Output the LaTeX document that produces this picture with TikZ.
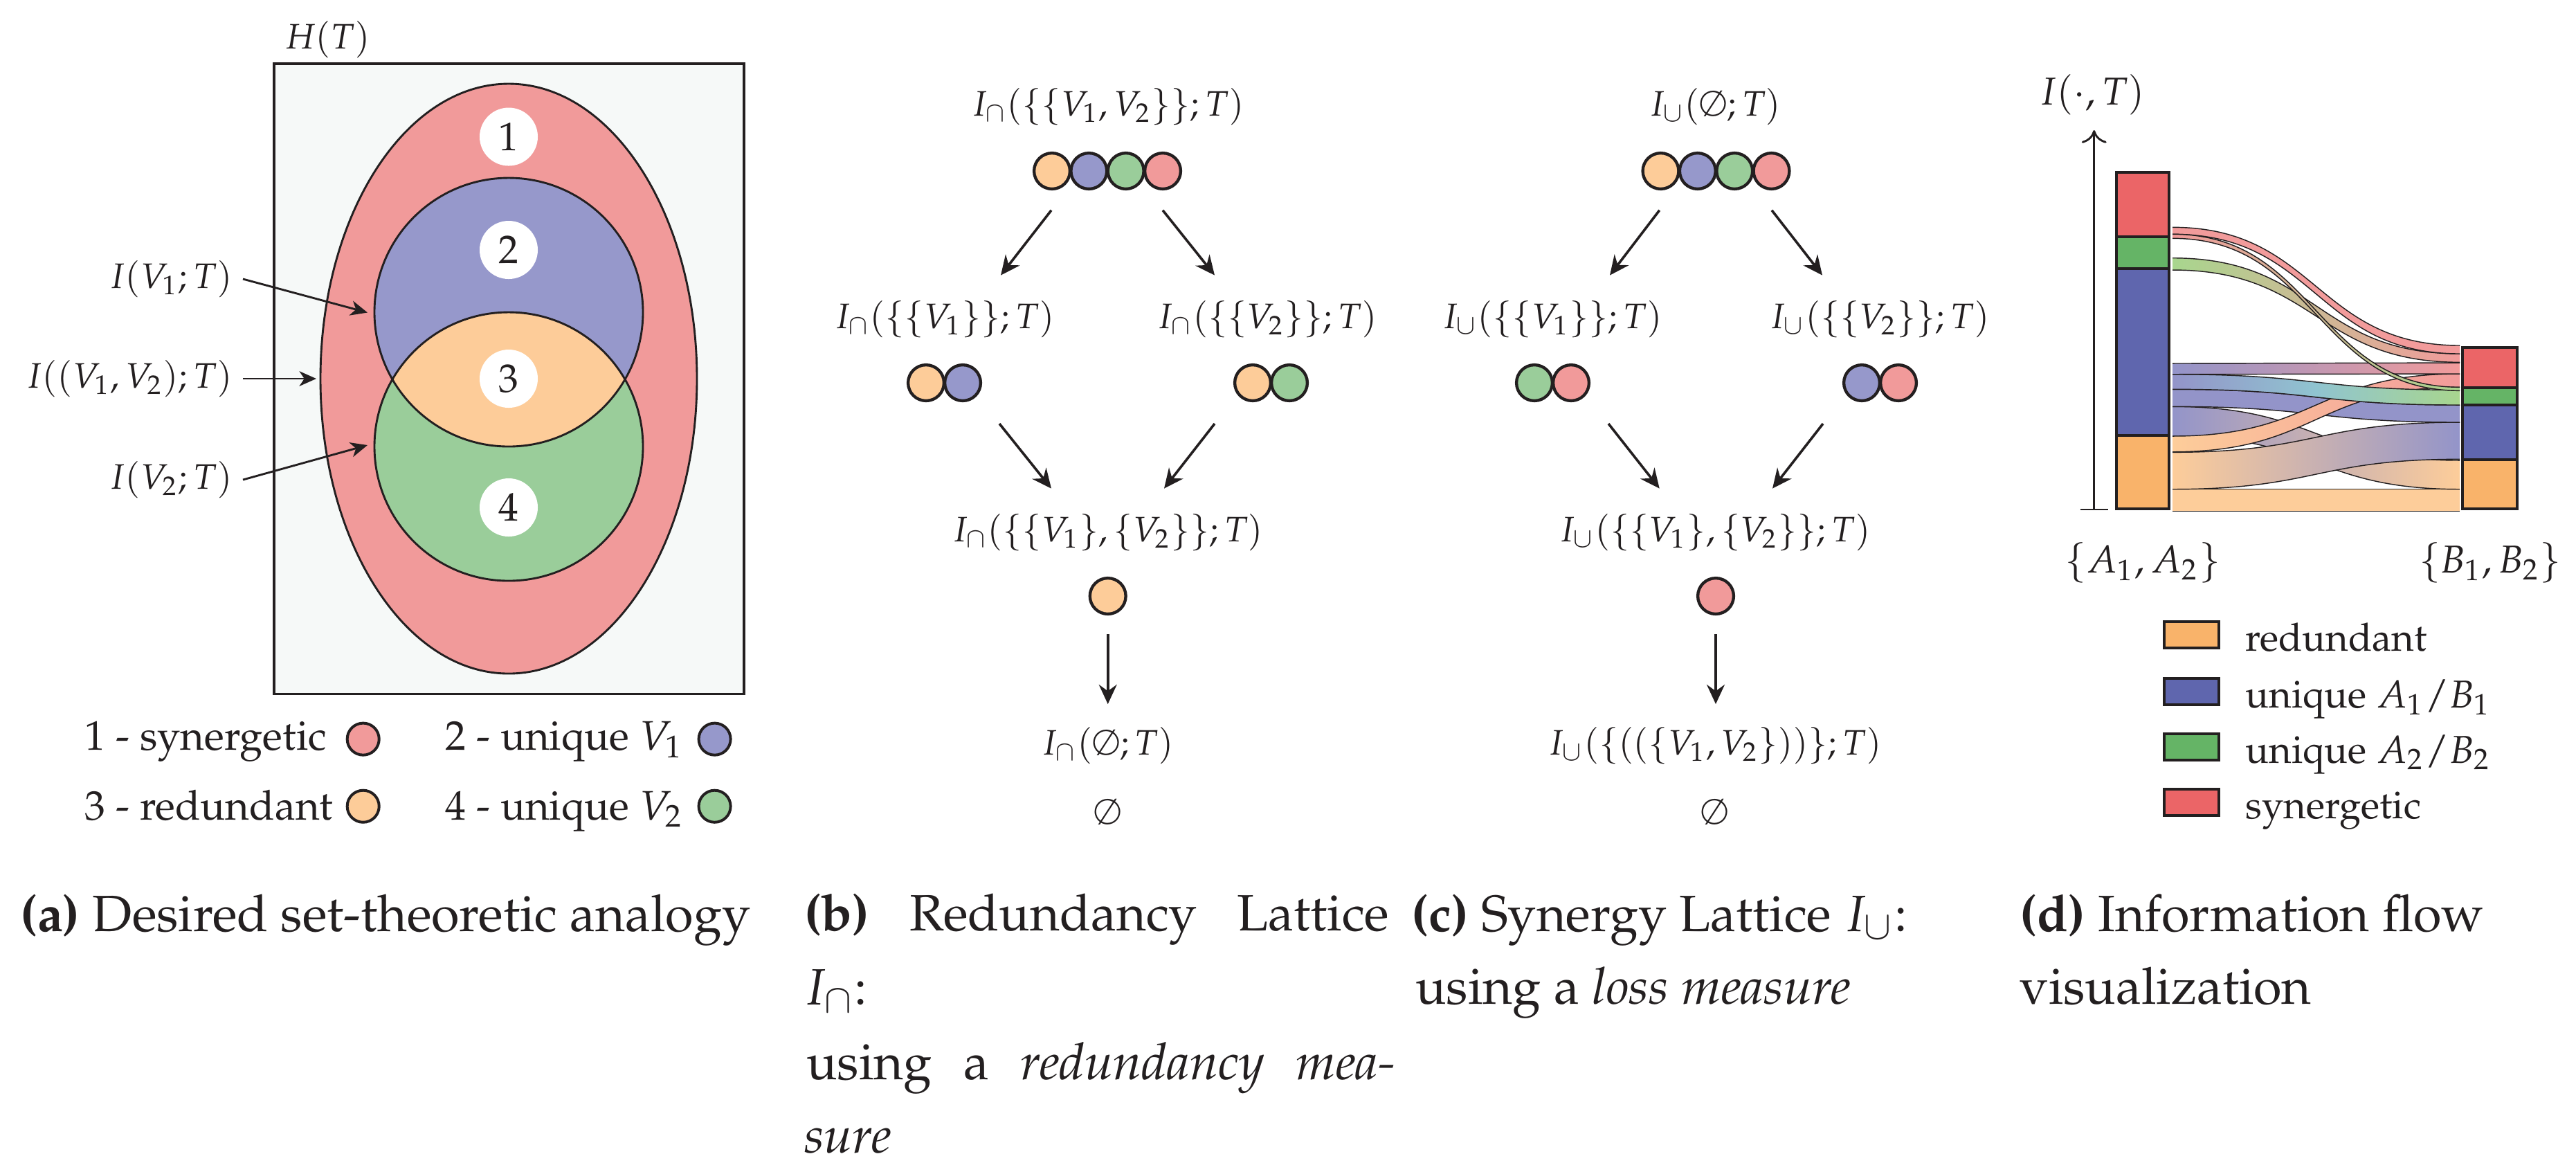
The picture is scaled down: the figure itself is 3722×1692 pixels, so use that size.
\documentclass[tikz,border=0pt]{standalone}
\usepackage[T1]{fontenc}
\usepackage{mathpazo}
\usetikzlibrary{arrows.meta}
\definecolor{cR}{HTML}{F19A9A}
\definecolor{cB}{HTML}{9698CB}
\definecolor{cG}{HTML}{9ACD9A}
\definecolor{cO}{HTML}{FDCC99}
\definecolor{bgA}{HTML}{F6F9F8}
\definecolor{bR}{HTML}{EB6567}
\definecolor{bG}{HTML}{65B466}
\definecolor{bB}{HTML}{5F66AE}
\definecolor{bO}{HTML}{F9B36A}
\definecolor{fR}{HTML}{F29B9B}
\definecolor{fG}{HTML}{A8D68E}
\definecolor{fB}{HTML}{9394C9}
\definecolor{fO}{HTML}{FDCD9A}
\definecolor{fTeal}{HTML}{90C4D0}
\definecolor{ink}{HTML}{231F20}
\newcommand\sankeyflow[5]{%
  \path[#5] (3139,#1) .. controls (3346.5,#1) and (3346.5,#3) .. (3554,#3)
     -- (3554,#4) .. controls (3346.5,#4) and (3346.5,#2) .. (3139,#2) -- cycle;
  \draw[flowline] (3139,#1) .. controls (3346.5,#1) and (3346.5,#3) .. (3554,#3);
  \draw[flowline] (3139,#2) .. controls (3346.5,#2) and (3346.5,#4) .. (3554,#4);
}
\tikzset{
  txa/.style={font=\fontsize{7.1}{8}\selectfont, inner sep=0pt, text=ink},
  lega/.style={font=\fontsize{8.3}{9}\selectfont, inner sep=0pt, anchor=base west, text=ink},
  lat/.style={font=\fontsize{7.1}{8}\selectfont, inner sep=0pt, text=ink},
  dot/.style={circle, draw=ink, line width=0.6pt, minimum size=7.2pt, inner sep=0pt, outer sep=0pt},
  legdot/.style={circle, draw=ink, line width=0.55pt, minimum size=6.4pt, inner sep=0pt},
  numc/.style={circle, fill=white, minimum size=11.67pt, inner sep=0pt, font=\fontsize{8}{9}\selectfont, text=ink},
  capt/.style={font=\fontsize{10.25}{12}\selectfont, inner sep=0pt, anchor=base west, text=ink},
  larr/.style={draw=ink, line width=0.5pt, -{Stealth[length=3.9pt,width=3.6pt,inset=1.3pt]}},
  aarr/.style={draw=ink, line width=0.4pt, -{Stealth[length=3.4pt,width=3pt,inset=1pt]}},
  flowline/.style={draw=ink, line width=0.2pt},
  barseg/.style={draw=ink, line width=0.55pt},
  legbox/.style={draw=ink, line width=0.55pt, minimum width=10.9pt, minimum height=5.24pt, inner sep=0pt},
  dtxt/.style={font=\fontsize{7.8}{9}\selectfont, inner sep=0pt, text=ink},
}
\begin{document}
\begin{tikzpicture}[x=0.138889pt,y=-0.138889pt]
\useasboundingbox (0,0) rectangle (3722,1692);

% ================= (a) =================
\node[txa] (HT) at (473,57) {$H(T)$};
\draw[draw=ink, line width=0.5pt, fill=bgA] (396,92) rectangle (1075,1002.5);
\fill[cR] (735,547) ellipse [x radius=272, y radius=426];
\fill[cB] (735,451) circle [radius=194];
\fill[cG] (735,645) circle [radius=194];
\begin{scope}
  \clip (735,451) circle [radius=194];
  \fill[cO] (735,645) circle [radius=194];
\end{scope}
\draw[draw=ink, line width=0.4pt] (735,547) ellipse [x radius=272, y radius=426];
\draw[draw=ink, line width=0.4pt] (735,451) circle [radius=194];
\draw[draw=ink, line width=0.4pt] (735,645) circle [radius=194];
\node[numc] (n1) at (735,197.5) {1};
\node[numc] (n2) at (735,361) {2};
\node[numc] (n3) at (735,547) {3};
\node[numc] (n4) at (735,733) {4};

\node[txa, anchor=east] (lV1) at (337,403) {$I(V_1;T)$};
\node[txa, anchor=east] (lV12) at (337,547) {$I((V_1,V_2);T)$};
\node[txa, anchor=east] (lV2) at (337,693) {$I(V_2;T)$};
\coordinate (a1s) at (351,403);  \coordinate (a1e) at (531,451.5);
\coordinate (a2s) at (351,547);  \coordinate (a2e) at (457,547);
\coordinate (a3s) at (351,693);  \coordinate (a3e) at (531,643);
\draw[aarr] (a1s) -- (a1e);
\draw[aarr] (a2s) -- (a2e);
\draw[aarr] (a3s) -- (a3e);

\node[lega] (lg1) at (121,1083) {1 - synergetic};
\node[legdot, fill=cR] (lgd1) at (524.7,1067.6) {};
\node[lega] (lg2) at (642,1083) {2 - unique $V_1$};
\node[legdot, fill=cB] (lgd2) at (1032.6,1067.6) {};
\node[lega] (lg3) at (121,1184) {3 - redundant};
\node[legdot, fill=cO] (lgd3) at (524.7,1164.7) {};
\node[lega] (lg4) at (642,1184) {4 - unique $V_2$};
\node[legdot, fill=cG] (lgd4) at (1032.6,1164.7) {};

% ================= (b) =================
\node[lat] (bT) at (1600.7,154) {$I_\cap(\{\{V_1,V_2\}\};T)$};
\node[dot, fill=cO] (bT1) at (1520,247) {};
\node[dot, fill=cB] (bT2) at (1573.3,247) {};
\node[dot, fill=cG] (bT3) at (1626.7,247) {};
\node[dot, fill=cR] (bT4) at (1680,247) {};
\node[lat] (bM1) at (1364.7,461) {$I_\cap(\{\{V_1\}\};T)$};
\node[lat] (bM2) at (1831,461) {$I_\cap(\{\{V_2\}\};T)$};
\node[dot, fill=cO] (bL1) at (1338,553) {};
\node[dot, fill=cB] (bL2) at (1391,553) {};
\node[dot, fill=cO] (bR1) at (1810,553) {};
\node[dot, fill=cG] (bR2) at (1863,553) {};
\node[lat] (bB) at (1600.7,769) {$I_\cap(\{\{V_1\},\{V_2\}\};T)$};
\node[dot, fill=cO] (bB1) at (1600.7,861) {};
\node[lat] (bE) at (1600.7,1077) {$I_\cap(\emptyset;T)$};
\node[lat] (bEs) at (1600.7,1172.7) {$\emptyset$};
\coordinate (b1s) at (1519,303.7); \coordinate (b1e) at (1446,397.6);
\coordinate (b2s) at (1680,303.7); \coordinate (b2e) at (1755,397.6);
\coordinate (b3s) at (1444,612);   \coordinate (b3e) at (1519,705.6);
\coordinate (b4s) at (1755,612);   \coordinate (b4e) at (1682,705.6);
\coordinate (b5s) at (1600.7,916); \coordinate (b5e) at (1600.7,1017);
\foreach \i in {1,...,5} \draw[larr] (b\i s) -- (b\i e);

% ================= (c) =================
\node[lat] (cT) at (2478,154) {$I_\cup(\emptyset;T)$};
\node[dot, fill=cO] (cT1) at (2399.5,247) {};
\node[dot, fill=cB] (cT2) at (2452.8,247) {};
\node[dot, fill=cG] (cT3) at (2506.2,247) {};
\node[dot, fill=cR] (cT4) at (2559.5,247) {};
\node[lat] (cM1) at (2242.7,461) {$I_\cup(\{\{V_1\}\};T)$};
\node[lat] (cM2) at (2716,461) {$I_\cup(\{\{V_2\}\};T)$};
\node[dot, fill=cG] (cL1) at (2217,553) {};
\node[dot, fill=cR] (cL2) at (2270,553) {};
\node[dot, fill=cB] (cR1) at (2690,553) {};
\node[dot, fill=cR] (cR2) at (2743,553) {};
\node[lat] (cB) at (2478,769) {$I_\cup(\{\{V_1\},\{V_2\}\};T)$};
\node[dot, fill=cR] (cB1) at (2479,861) {};
\node[lat] (cE) at (2478,1077) {$I_\cup(\{((\{V_1,V_2\}))\};T)$};
\node[lat] (cEs) at (2478,1172.7) {$\emptyset$};
\coordinate (c1s) at (2397.7,303.7); \coordinate (c1e) at (2326,397.6);
\coordinate (c2s) at (2560,303.7);   \coordinate (c2e) at (2633,397.6);
\coordinate (c3s) at (2324,612);     \coordinate (c3e) at (2397.7,705.6);
\coordinate (c4s) at (2634,612);     \coordinate (c4e) at (2561,705.6);
\coordinate (c5s) at (2479,916);     \coordinate (c5e) at (2479,1017);
\foreach \i in {1,...,5} \draw[larr] (c\i s) -- (c\i e);

% ================= (d) =================
\node[dtxt] (dI) at (3023,137) {$I(\cdot,T)$};
\coordinate (axB) at (3025.7,736);
\coordinate (axT) at (3025.7,188);
\coordinate (tkL) at (3005.7,736);
\coordinate (tkR) at (3045.7,736);
\draw[draw=ink, line width=0.4pt, -{To[length=2.6pt,width=5pt]}] (axB) -- (axT);
\draw[draw=ink, line width=0.4pt] (tkL) -- (tkR);

% flows
\sankeyflow{706.7}{738.3}{706.7}{738.3}{fill=fO}
\sankeyflow{587.3}{630}{665}{706.7}{left color=fB,right color=fO}
\sankeyflow{653.3}{706.7}{610}{663.3}{left color=fO,right color=fB}
\sankeyflow{562.3}{587.3}{585}{610}{fill=fB}
\sankeyflow{630}{652.7}{540}{559.3}{left color=fO,right color=fR}
\sankeyflow{540.7}{562.3}{563.3}{585}{left color=fB,right color=fG,middle color=fTeal}
\sankeyflow{525}{540.7}{524}{540}{left color=fB,right color=fR}
\sankeyflow{372.7}{390}{511}{523.3}{left color=fG,right color=fR}
\sankeyflow{328.3}{338.3}{499}{511}{fill=fR}
\sankeyflow{338.3}{344.3}{559.3}{564.3}{left color=fR,right color=fG}

% bars
\draw[barseg, fill=bR] (3058,249) rectangle (3134,342);
\draw[barseg, fill=bG] (3058,342) rectangle (3134,388);
\draw[barseg, fill=bB] (3058,388) rectangle (3134,628.8);
\draw[barseg, fill=bO] (3058,628.8) rectangle (3134,735);
\draw[barseg, fill=bR] (3558,501.5) rectangle (3636.6,559.8);
\draw[barseg, fill=bG] (3558,559.8) rectangle (3636.6,585);
\draw[barseg, fill=bB] (3558,585) rectangle (3636.6,664);
\draw[barseg, fill=bO] (3558,664) rectangle (3636.6,735);

\node[dtxt] (dA) at (3096,813) {$\{A_1,A_2\}$};
\node[dtxt] (dB) at (3598,813) {$\{B_1,B_2\}$};

\node[legbox, fill=bO] (k1) at (3166.3,917) {};
\node[legbox, fill=bB] (k2) at (3166.3,999) {};
\node[legbox, fill=bG] (k3) at (3166.3,1079) {};
\node[legbox, fill=bR] (k4) at (3166.3,1159) {};
\node[dtxt, anchor=base west] (kt1) at (3243,940) {redundant};
\node[dtxt, anchor=base west] (kt2) at (3243,1022) {unique $A_1/B_1$};
\node[dtxt, anchor=base west] (kt3) at (3243,1102) {unique $A_2/B_2$};
\node[dtxt, anchor=base west] (kt4) at (3243,1182) {synergetic};

% ================= captions =================
\node[capt] (capA) at (28,1345) {\textbf{(a)} Desired set-theoretic analogy};
\node[capt] (capB1) at (1160.6,1344) {\makebox[117.4pt][s]{\textbf{(b)} Redundancy Lattice}};
\node[capt] (capB2) at (1160.6,1451.7) {$I_\cap$:};
\node[capt] (capB3) at (1163.8,1559) {\makebox[118.2pt][s]{using a \emph{redundancy mea-}}};
\node[capt] (capB4) at (1160.6,1665) {\emph{sure}};
\node[capt] (capC1) at (2038.4,1345) {\textbf{(c)} Synergy Lattice $I_\cup$:};
\node[capt] (capC2) at (2044,1450) {using a \emph{loss measure}};
\node[capt] (capD1) at (2917,1345) {\textbf{(d)} Information flow};
\node[capt] (capD2) at (2917,1450) {visualization};
\end{tikzpicture}
\end{document}
